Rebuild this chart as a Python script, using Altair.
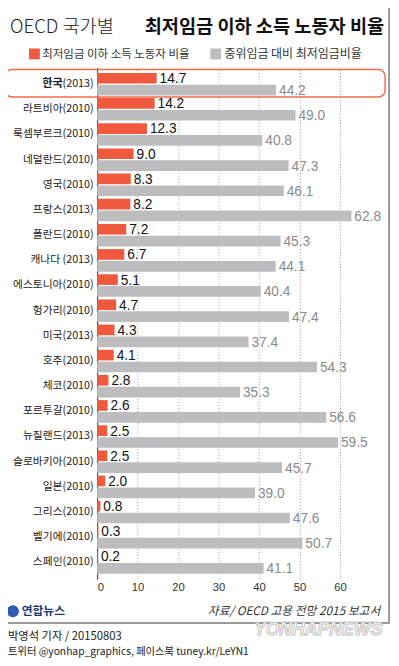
import altair as alt
import pandas as pd

countries = ["한국(2013)", "라트비아(2010)", "룩셈부르크(2010)", "네덜란드(2010)", "영국(2010)",
             "프랑스(2013)", "폴란드(2010)", "캐나다 (2013)", "에스토니아(2010)", "헝가리(2010)",
             "미국(2013)", "호주(2010)", "체코(2010)", "포르투갈(2010)", "뉴질랜드(2013)",
             "슬로바키아(2010)", "일본(2010)", "그리스(2010)", "벨기에(2010)", "스페인(2010)"]
below_min = [14.7, 14.2, 12.3, 9.0, 8.3, 8.2, 7.2, 6.7, 5.1, 4.7, 4.3, 4.1, 2.8, 2.6, 2.5, 2.5, 2.0, 0.8, 0.3, 0.2]
min_to_median = [44.2, 49.0, 40.8, 47.3, 46.1, 62.8, 45.3, 44.1, 40.4, 47.4, 37.4, 54.3, 35.3, 56.6, 59.5, 45.7, 39.0, 47.6, 50.7, 41.1]
series_names = ["최저임금 이하 소득 노동자 비율", "중위임금 대비 최저임금비율"]
x_ticks = [0, 10, 20, 30, 40, 50, 60]

title_light = "OECD 국가별"
title_bold = "최저임금 이하 소득 노동자 비율"
source_text = "자료/ OECD 고용 전망 2015 보고서"
byline = "박영석 기자 / 20150803"
social = "트위터 @yonhap_graphics, 페이스북 tuney.kr/LeYN1"

RED = "#EF5A3F"
GRAY = "#BDBDBF"
KFONT = "Noto Sans CJK KR"
NFONT = "Liberation Sans Narrow, Liberation Sans, sans-serif"

rows = []
for c, a, b in zip(countries, below_min, min_to_median):
    rows.append({"country": c, "series": series_names[0], "value": a, "label": f"{a:.1f}"})
    rows.append({"country": c, "series": series_names[1], "value": b, "label": f"{b:.1f}"})
df = pd.DataFrame(rows)

W = 65 * 248 / 60
H = 522

y_enc = alt.Y("country:N", sort=countries,
              scale=alt.Scale(paddingInner=0.105, paddingOuter=0.21),
              axis=alt.Axis(title=None, ticks=False, labelFont=KFONT, labelFontSize=11,
                            labelColor="#222", labelPadding=4, domainColor="#333",
                            labelLimit=200,
                            labelExpr="datum.value == '한국(2013)' ? '(2013)' : datum.label"))
x_enc = alt.X("value:Q", scale=alt.Scale(domain=[0, 65], nice=False),
              axis=alt.Axis(title=None, values=x_ticks, domain=False, ticks=False,
                            labelFont=NFONT, labelFontSize=11.5, labelColor="#333",
                            labelPadding=3, grid=True, gridColor="#9a9a9a",
                            gridDash=[1, 2], gridWidth=1))
yoff = alt.YOffset("series:N", sort=series_names,
                   scale=alt.Scale(paddingInner=0.1, paddingOuter=0))

bars = alt.Chart(df).mark_bar().encode(
    x=x_enc, y=y_enc, yOffset=yoff,
    color=alt.Color("series:N", sort=series_names,
                    scale=alt.Scale(domain=series_names, range=[RED, GRAY]), legend=None),
)

vals = alt.Chart(df).mark_text(align="left", baseline="middle", dx=3, dy=1,
                               font=NFONT, fontSize=14).encode(
    x="value:Q", y=alt.Y("country:N", sort=countries), yOffset=yoff, text="label:N",
    color=alt.condition(alt.datum.series == series_names[0], alt.value("#111"), alt.value("#8a8a8a")),
)

korea = alt.Chart(pd.DataFrame({"country": [countries[0]], "t": ["한국"]})).mark_text(
    align="right", baseline="middle", font=KFONT, fontSize=11.5, fontWeight="bold", color="#222"
).encode(x=alt.value(-35), y=alt.Y("country:N", sort=countries), text="t:N")

box = alt.Chart(pd.DataFrame({"k": [1]})).mark_rect(
    fill="transparent", stroke="#F26A4B", strokeWidth=1.5, cornerRadius=7
).encode(x=alt.value(-94), x2=alt.value(294), y=alt.value(2), y2=alt.value(30))

frame = alt.Chart(pd.DataFrame({"k": [1]})).mark_rect(
    fill="transparent", stroke="#7a7a7a", strokeWidth=1.5
).encode(x=alt.value(-110), x2=alt.value(298), y=alt.value(-80), y2=alt.value(567))


def txt(t, x, y, size, align="left", weight="normal", color="#222", font=KFONT, style="normal", baseline="middle"):
    return alt.Chart(pd.DataFrame({"t": [t]})).mark_text(
        align=align, baseline=baseline, fontSize=size, fontWeight=weight, color=color,
        font=font, fontStyle=style
    ).encode(x=alt.value(x), y=alt.value(y), text="t:N")


title1 = txt(title_light, -89, -35, 19, weight=300, color="#222", baseline="alphabetic")
title2 = txt(title_bold, 293, -35, 19, align="right", weight="bold", color="#111", baseline="alphabetic")

leg_sq = alt.Chart(pd.DataFrame({"s": series_names, "px": [-64, 121]})).mark_square(
    size=121, opacity=1
).encode(x=alt.X("px:Q", scale=None), y=alt.value(-14),
         color=alt.Color("series_c:N", scale=None, legend=None)).transform_calculate(
    series_c=f"datum.s == '{series_names[0]}' ? '{RED}' : '{GRAY}'")
leg1 = txt(series_names[0], -56, -14, 11.7, color="#333")
leg2 = txt(series_names[1], 130, -14, 12.2, color="#333")

logo_c = alt.Chart(pd.DataFrame({"k": [1]})).mark_circle(size=150, opacity=1, color="#2a5db0").encode(
    x=alt.value(-86), y=alt.value(555))
logo_t = txt("연합뉴스", -77, 555, 12, weight="bold", color="#1b3a7a")
src = txt(source_text, 289, 555, 12, align="right", color="#333", style="italic")
wm = alt.Chart(pd.DataFrame({"t": ["YONHAPNEWS"]})).mark_text(
    align="right", baseline="middle", fontSize=18, fontWeight="bold", fontStyle="italic",
    font="Liberation Sans", fill="#f6f6f6", stroke="#c4c4c4", strokeWidth=1
).encode(x=alt.value(291), y=alt.value(574), text="t:N")
by = txt(byline, -91, 581, 11.5, color="#222")
soc = txt(social, -91, 597, 10.5, color="#222")

chart = alt.layer(frame, box, bars, vals, korea, title1, title2, leg_sq, leg1, leg2,
                  logo_c, logo_t, wm, src, by, soc).properties(
    width=W, height=H,
    autosize=alt.AutoSizeParams(type="none"),
    padding={"left": 91, "top": 54, "right": 391 - 91 - W, "bottom": 658 - 54 - H},
    background="white",
).configure_view(stroke=None)

chart.save("out.html", embed_options={"renderer": "svg", "actions": False})
